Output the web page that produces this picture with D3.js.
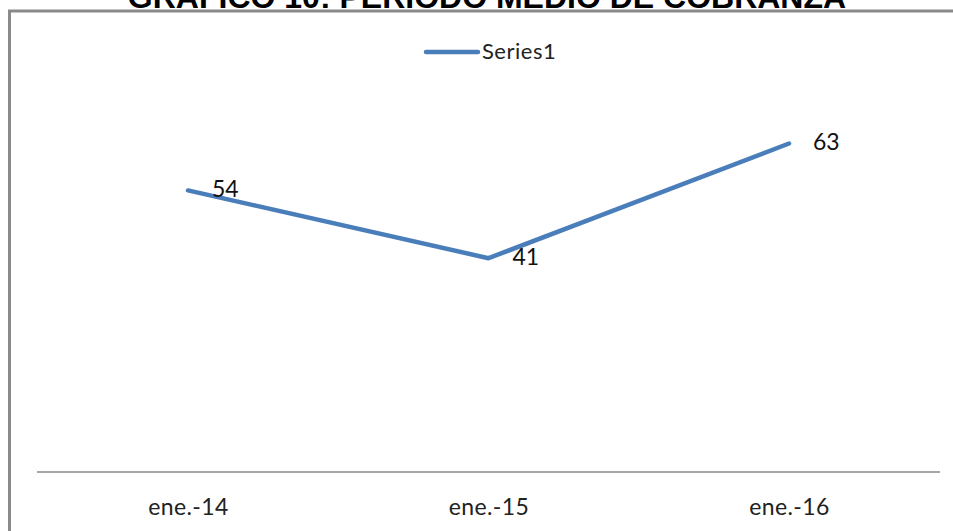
<!DOCTYPE html>
<html>
<head>
<meta charset="utf-8">
<script src="https://cdn.jsdelivr.net/npm/d3@7"></script>
<style>
  html, body { margin: 0; padding: 0; background: #fff; overflow: hidden; }
  svg { display: block; }
</style>
</head>
<body>
<svg id="chart" width="953" height="531"></svg>
<script>
// Periodo medio de cobranza (días) por fecha
const categories = ["ene.-14", "ene.-15", "ene.-16"];
const values = [54, 41, 63];
const seriesName = "Series1";
const title = "GRÁFICO 10: PERIODO MEDIO DE COBRANZA";

const W = 953, H = 531;
const svg = d3.select("#chart");
const lineColor = "#4a7ebb";
const labelFont = "Lato, 'Open Sans', sans-serif";

// Chart frame (extends past the right and bottom edges)
svg.append("rect")
  .attr("x", 9.5).attr("y", 11)
  .attr("width", W + 20).attr("height", H + 20)
  .attr("fill", "#fff")
  .attr("stroke", "#8a8a8a")
  .attr("stroke-width", 3);

// Title, partly above the top edge
svg.append("text")
  .attr("x", 487).attr("y", 8)
  .attr("text-anchor", "middle")
  .attr("font-family", "'Liberation Sans', Arial, sans-serif")
  .attr("font-weight", "bold")
  .attr("font-size", 32)
  .attr("fill", "#000")
  .text(title);

// Scales
const x = d3.scalePoint()
  .domain(categories)
  .range([188, 789])
  .padding(0);

const y = d3.scaleLinear()
  .domain([0, 70])
  .range([472, 107]);

// Category axis: baseline at zero plus labels, no ticks
const xAxis = d3.axisBottom(x).tickSize(0).tickPadding(27);
const gx = svg.append("g")
  .attr("transform", `translate(0,${y(0)})`)
  .call(xAxis);
gx.select(".domain").remove();
gx.append("line")
  .attr("x1", 37).attr("x2", 940)
  .attr("y1", 0).attr("y2", 0)
  .attr("stroke", "#a6a6a6")
  .attr("stroke-width", 2);
gx.selectAll(".tick text")
  .attr("font-family", labelFont)
  .attr("font-size", 23)
  .attr("letter-spacing", 0.4)
  .attr("fill", "#222");

// Series line
const line = d3.line()
  .x((d, i) => x(categories[i]))
  .y(d => y(d));

svg.append("path")
  .datum(values)
  .attr("d", line)
  .attr("fill", "none")
  .attr("stroke", lineColor)
  .attr("stroke-width", 4.5)
  .attr("stroke-linecap", "round")
  .attr("stroke-linejoin", "round");

// Data labels to the right of each point
svg.selectAll(".dlabel")
  .data(values)
  .join("text")
  .attr("class", "dlabel")
  .attr("x", (d, i) => x(categories[i]) + 24)
  .attr("y", d => y(d) + 1)
  .attr("dominant-baseline", "middle")
  .attr("font-family", labelFont)
  .attr("font-size", 23)
  .attr("fill", "#111")
  .text(d => d);

// Legend
const lg = svg.append("g").attr("transform", "translate(424,52)");
lg.append("line")
  .attr("x1", 2).attr("x2", 54)
  .attr("y1", 0).attr("y2", 0)
  .attr("stroke", lineColor)
  .attr("stroke-width", 4.5)
  .attr("stroke-linecap", "round");
lg.append("text")
  .attr("x", 58).attr("y", 1)
  .attr("dominant-baseline", "middle")
  .attr("font-family", labelFont)
  .attr("font-size", 22)
  .attr("letter-spacing", 0.5)
  .attr("fill", "#222")
  .text(seriesName);
</script>
</body>
</html>
